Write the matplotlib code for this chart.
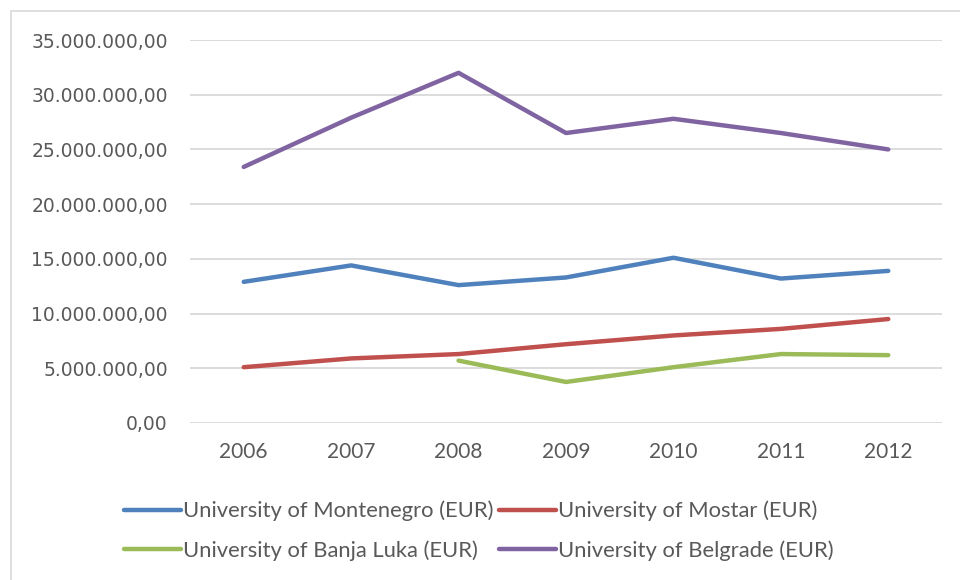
import matplotlib
matplotlib.use("Agg")
import matplotlib.pyplot as plt
from matplotlib.patches import Rectangle
from matplotlib.ticker import FuncFormatter
import numpy as np

years = ["2006", "2007", "2008", "2009", "2010", "2011", "2012"]
montenegro = [12.9, 14.4, 12.6, 13.3, 15.1, 13.2, 13.9]
mostar = [5.1, 5.9, 6.3, 7.2, 8.0, 8.6, 9.5]
banja_luka = [np.nan, np.nan, 5.7, 3.75, 5.1, 6.3, 6.2]
belgrade = [23.4, 27.9, 32.0, 26.5, 27.8, 26.5, 25.0]

series = [
    ("University of Montenegro (EUR)", montenegro, "#4F81BD"),
    ("University of Banja Luka (EUR)", banja_luka, "#9BBB59"),
    ("University of Mostar (EUR)", mostar, "#C0504D"),
    ("University of Belgrade (EUR)", belgrade, "#8064A2"),
]
draw_order = [0, 2, 1, 3]

TXT = "#595959"
GRID = "#d9d9d9"
NARROW = ["Lato", "DejaVu Sans"]

fig = plt.figure(figsize=(9.6, 5.8), dpi=100)
ax = fig.add_axes([190 / 960, 1 - 423 / 580, 752 / 960, 383 / 580])

x = np.arange(len(years))
handles = {}
for i in draw_order:
    label, vals, color = series[i]
    (h,) = ax.plot(x, np.array(vals) * 1e6, color=color, lw=3.2,
                   solid_capstyle="round", solid_joinstyle="round", label=label)
    handles[i] = h

ax.set_xlim(-0.5, len(years) - 0.5)
ax.set_ylim(0, 35e6)
ax.set_yticks(np.arange(0, 35e6 + 1, 5e6))
ax.yaxis.set_major_formatter(FuncFormatter(
    lambda v, _: f"{v:,.2f}".replace(",", "X").replace(".", ",").replace("X", ".")))
ax.set_xticks(x)
ax.set_xticklabels(years, fontfamily=NARROW, fontsize=15, color=TXT)
ax.tick_params(axis="y", length=0, pad=16, labelsize=13.5, labelcolor=TXT)
ax.tick_params(axis="x", length=0, pad=14)
ax.grid(axis="y", color=GRID, lw=1.3)
ax.set_axisbelow(True)
for s in ax.spines.values():
    s.set_visible(False)

leg = fig.legend([handles[i] for i in range(4)], [series[i][0] for i in range(4)],
                 ncol=2, loc="upper left", bbox_to_anchor=(104 / 960, 1 - 481 / 580),
                 frameon=False, handlelength=2.6, handletextpad=0.1,
                 columnspacing=0.25, labelspacing=0.85,
                 prop={"family": NARROW, "size": 15.8})
for t in leg.get_texts():
    t.set_color(TXT)

fig.patches.append(Rectangle((11 / 960, -0.1), 1.1, 1 - 11 / 580 + 0.1,
                             transform=fig.transFigure, fill=False,
                             edgecolor=GRID, lw=1.2))

fig.savefig("out.png", dpi=100)
